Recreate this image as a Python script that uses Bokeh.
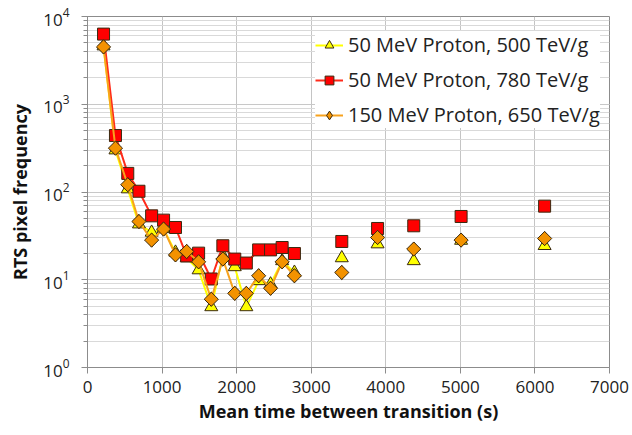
import math
from bokeh.plotting import figure
from bokeh.models import (LogTicker, SingleIntervalTicker, LogTickFormatter, Range1d,
                          Legend, LegendItem)
from bokeh.embed import file_html
from bokeh.resources import INLINE

# Data
mean_time = [215, 375, 540, 690, 860, 1020, 1180, 1330, 1490, 1660, 1815, 1975,
             2130, 2295, 2455, 2610, 2775, 3410, 3890, 4375, 5010, 6130]
p50_500 = [4600, 300, 108, 43, 34.6, 38, 20.5, 17.7, 12.9, 4.9, 18.7, 14,
           4.9, 9.7, 8.9, 16.4, 12.1, 17.7, 25.5, 16.4, 28, 24.4]
p50_780 = [6300, 440, 163, 102, 53.5, 47.8, 39.4, 18.7, 20.1, 10.2, 24.4, 17.2,
           15.5, 21.9, 21.9, 23.3, 19.9, 27.3, 38.4, 41.2, 52.6, 69]
p150_650 = [4500, 316, 121, 46.1, 28.3, 37.8, 19.2, 21, 16, 6.0, 17.2, 7.0,
            7.0, 11.1, 8.0, 16, 11.1, 12.1, 30.3, 22.4, 28.3, 29.5]
n_connected = 17  # points joined by lines
series_labels = ["50 MeV Proton, 500 TeV/g", "50 MeV Proton, 780 TeV/g",
                 "150 MeV Proton, 650 TeV/g"]
x_label = "Mean time between transition (s)"
y_label = "RTS pixel frequency"

FONT = "Open Sans"

p = figure(width=632, height=435, y_axis_type="log", output_backend="svg",
           toolbar_location=None, x_range=Range1d(0, 7000), y_range=Range1d(1, 10000),
           min_border_left=87, min_border_right=23, min_border_top=16, min_border_bottom=68)
p.background_fill_color = "white"
p.border_fill_color = "white"
p.outline_line_color = "#8c8c8c"
p.outline_line_width = 1

p.xaxis.ticker = SingleIntervalTicker(interval=1000, num_minor_ticks=0)
p.yaxis.ticker = LogTicker(num_minor_ticks=10)
p.yaxis.formatter = LogTickFormatter()

for ax in (p.xaxis[0], p.yaxis[0]):
    ax.axis_line_color = "#8c8c8c"
    ax.major_tick_line_color = "#8c8c8c"
    ax.minor_tick_line_color = "#8c8c8c"
    ax.major_tick_in = 0
    ax.major_tick_out = 6
    ax.minor_tick_in = 0
    ax.minor_tick_out = 4
    ax.major_label_text_font = FONT
    ax.major_label_text_font_size = "17px"
    ax.major_label_text_color = "#222222"
    ax.axis_label_text_font = FONT
    ax.axis_label_text_font_size = "18px"
    ax.axis_label_text_font_style = "bold"
    ax.axis_label_text_color = "#111111"
p.xaxis.axis_label = x_label
p.yaxis.axis_label = y_label
p.xaxis.axis_label_standoff = 3
p.yaxis.axis_label_standoff = 8
p.xaxis.major_label_standoff = 7
p.yaxis.major_label_standoff = 12

p.xgrid.grid_line_color = "#c4c4c4"
p.ygrid.grid_line_color = "#c8c8c8"
p.ygrid.minor_grid_line_color = "#d9d9d9"
p.xgrid.grid_line_width = 1

colors_line = ["#ffff00", "#ff2a1a", "#f7a21e"]
colors_fill = ["#ffff00", "#ff0000", "#f39200"]
markers = ["triangle", "square", "square"]
legend_markers = ["triangle", "square", "diamond"]
angles = [0, 0, math.pi / 4]
sizes = [13, 12, 10]
legend_sizes = [13, 12, 14]
series = [p50_500, p50_780, p150_650]

items = []
for vals, lc, fc, mk, lmk, ang, sz, lsz, lab in zip(series, colors_line, colors_fill, markers,
                                                  legend_markers, angles, sizes, legend_sizes,
                                                  series_labels):
    ln = p.line(mean_time[:n_connected], vals[:n_connected], line_color=lc, line_width=2)
    if lmk != mk:
        # legend swatch; in the plot it sits fully hidden beneath the rotated square
        sw = p.scatter(mean_time, vals, marker=lmk, size=lsz, fill_color=fc,
                       line_color="#3a2a10", line_width=1)
    sc = p.scatter(mean_time, vals, marker=mk, size=sz, angle=ang, fill_color=fc,
                   line_color="#3a2a10", line_width=1)
    items.append(LegendItem(label=lab, renderers=[ln, sw if lmk != mk else sc]))

legend = Legend(items=items, location=(228, 239))
legend.label_text_font = FONT
legend.label_text_font_size = "20px"
legend.label_text_color = "#222222"
legend.glyph_width = 28
legend.glyph_height = 22
legend.spacing = 8
legend.padding = 6
legend.margin = 0
legend.border_line_color = None
legend.background_fill_color = "white"
legend.background_fill_alpha = 1
legend.label_standoff = 5
p.add_layout(legend, "center")

open("out.html", "w").write(file_html(p, INLINE))
